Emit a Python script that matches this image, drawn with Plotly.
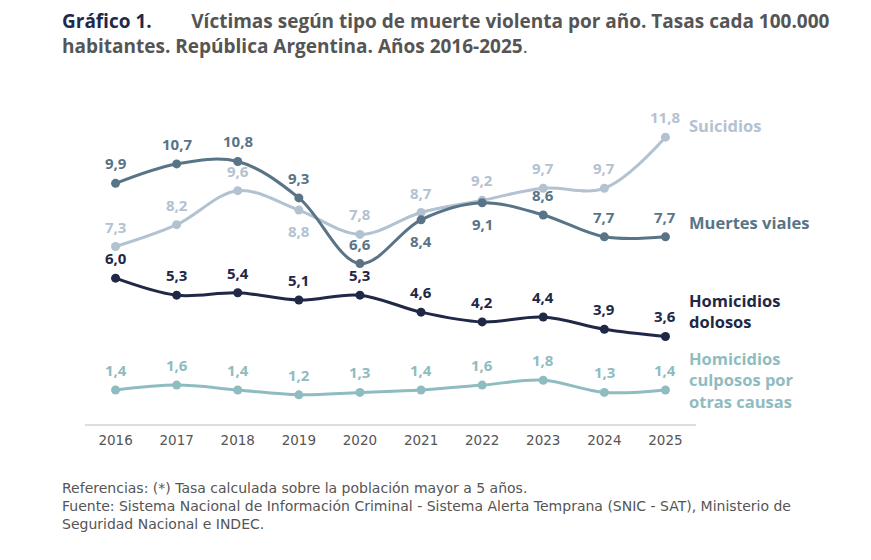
import plotly.graph_objects as go

# Data
years = ["2016", "2017", "2018", "2019", "2020", "2021", "2022", "2023", "2024", "2025"]
suicidios = [7.3, 8.2, 9.6, 8.8, 7.8, 8.7, 9.2, 9.7, 9.7, 11.8]
muertes_viales = [9.9, 10.7, 10.8, 9.3, 6.6, 8.4, 9.1, 8.6, 7.7, 7.7]
homicidios_dolosos = [6.0, 5.3, 5.4, 5.1, 5.3, 4.6, 4.2, 4.4, 3.9, 3.6]
homicidios_culposos = [1.4, 1.6, 1.4, 1.2, 1.3, 1.4, 1.6, 1.8, 1.3, 1.4]

# label goes below the point for these years
suicidios_below = ["2019"]
viales_below = ["2021", "2022"]

series = [
    ("Suicidios", suicidios, "#b3c2d1", suicidios_below, 12.3),
    ("Muertes viales", muertes_viales, "#587486", viales_below, 8.3),
    ("Homicidios<br>dolosos", homicidios_dolosos, "#1f2846", [], 4.65),
    ("Homicidios<br>culposos por<br>otras causas", homicidios_culposos, "#8fbcc0", [], 1.8),
]

FONT = "Open Sans"
TEXT_FONT = "DejaVu Sans"
GRAY = "#555555"

fig = go.Figure()
annotations = []

for name, values, color, below, label_y in series:
    fig.add_trace(go.Scatter(
        x=years, y=values, mode="lines+markers",
        line=dict(color=color, width=3, shape="spline", smoothing=1),
        marker=dict(color=color, size=9),
        name=name.replace("<br>", " "), hoverinfo="x+y",
    ))
    for i, (yr, v) in enumerate(zip(years, values)):
        shift = -21 if yr in below else 20
        annotations.append(dict(
            x=i, y=v, text=f"{v:.1f}".replace(".", ","), showarrow=False,
            yshift=shift, font=dict(family=FONT, size=15, color=color, weight="bold"),
        ))
    # series name on the right
    annotations.append(dict(
        x=0.985, xref="paper", y=label_y, yref="y", text=name, showarrow=False,
        xanchor="left", align="left",
        font=dict(family=FONT, size=16.5, color=color, weight="bold"),
    ))

# Title
annotations.append(dict(
    x=-0.041, xref="paper", y=1.322, yref="paper", xanchor="left", yanchor="top",
    align="left", showarrow=False,
    text=("<b><span style='color:#1f2a4a'>Gráfico 1.</span>" + "\u00a0" * 8 +
          "Víctimas según tipo de muerte violenta por año. Tasas cada 100.000<br>"
          "habitantes. República Argentina. Años 2016-2025</b>."),
    font=dict(family=FONT, size=19, color=GRAY),
))

# Footer
annotations.append(dict(
    x=-0.041, xref="paper", y=-0.172, yref="paper", xanchor="left", yanchor="top",
    align="left", showarrow=False,
    text=("Referencias: (*) Tasa calculada sobre la población mayor a 5 años.<br>"
          "Fuente: Sistema Nacional de Información Criminal - Sistema Alerta Temprana "
          "(SNIC - SAT), Ministerio de<br>Seguridad Nacional e INDEC."),
    font=dict(family=TEXT_FONT, size=14, color=GRAY),
))

fig.update_layout(
    width=871, height=560,
    margin=dict(l=77, r=183, t=100, b=144),
    paper_bgcolor="white", plot_bgcolor="white",
    showlegend=False,
    annotations=annotations,
    xaxis=dict(range=[-0.5, 9.5], showgrid=False, showline=True,
               linecolor="#dddddd", linewidth=1.5, ticks="", ticklabelstandoff=3,
               tickfont=dict(family=TEXT_FONT, size=13.5, color=GRAY)),
    yaxis=dict(range=[0, 13], visible=False),
)

fig.write_html("out.html")
